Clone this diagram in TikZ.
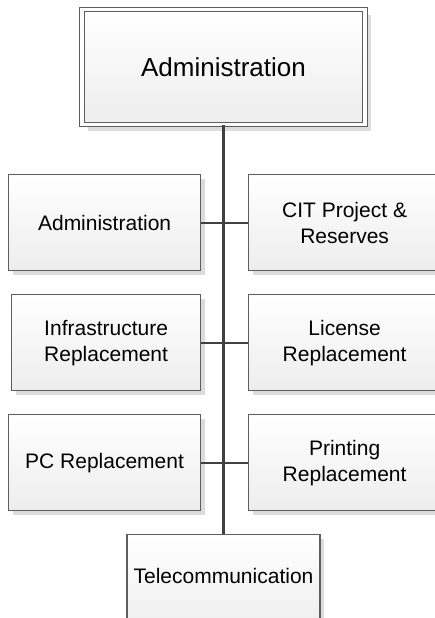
\documentclass[tikz,border=0pt]{standalone}
\usepackage{fontspec}
\setmainfont{Liberation Sans}
\usetikzlibrary{shadows}
\definecolor{edge}{HTML}{5E5E5E}
\definecolor{conn}{HTML}{404040}
\definecolor{shad}{HTML}{DCDCDC}
\definecolor{bot}{HTML}{EDEDED}
\begin{document}
\begin{tikzpicture}[x=1pt,y=-1pt,
  box/.style={draw=edge, line width=1.2pt, top color=white, bottom color=bot,
    minimum width=192pt, minimum height=96pt, inner sep=0pt, align=center,
    font=\fontsize{21}{26}\selectfont,
    drop shadow={shadow xshift=4pt, shadow yshift=-4pt, fill=shad, opacity=1}},
  topbox/.style={draw=edge, double=white, line width=1.2pt, double distance=3.4pt,
    top color=white, bottom color=bot,
    minimum width=283pt, minimum height=115pt, inner sep=0pt,
    font=\fontsize{26}{31}\selectfont,
    drop shadow={shadow xshift=6pt, shadow yshift=-6pt, fill=shad, opacity=1}},
  conline/.style={draw=conn, line width=2pt},
  trunk/.style={draw=conn, line width=2.6pt}]
\useasboundingbox (0,0) rectangle (435,618);
\node[topbox] (top) at (223.5,67) {Administration};
\node[box, anchor=north west] (a1) at (8,174) {Administration};
\node[box, anchor=north west] (r1) at (248,174) {CIT Project \&\\Reserves};
\node[box, anchor=north west, minimum width=189pt] (a2) at (11,294) {Infrastructure\\Replacement};
\node[box, anchor=north west] (r2) at (248,294) {License\\Replacement};
\node[box, anchor=north west] (a3) at (8,414) {PC Replacement};
\node[box, anchor=north west] (r3) at (248,414) {Printing\\Replacement};
\node[box, anchor=north, minimum width=193pt, minimum height=100pt] (tel) at (223.5,534) {};
\node[font=\fontsize{21}{26}\selectfont, inner sep=0pt] (teltext) at (223.5,576) {Telecommunication};
\draw[trunk] (top.south) -- (tel.north);
\draw[conline] (a1.east) -- (r1.west);
\draw[conline] (a2.east) -- (r2.west);
\draw[conline] (a3.east) -- (r3.west);
\end{tikzpicture}
\end{document}
